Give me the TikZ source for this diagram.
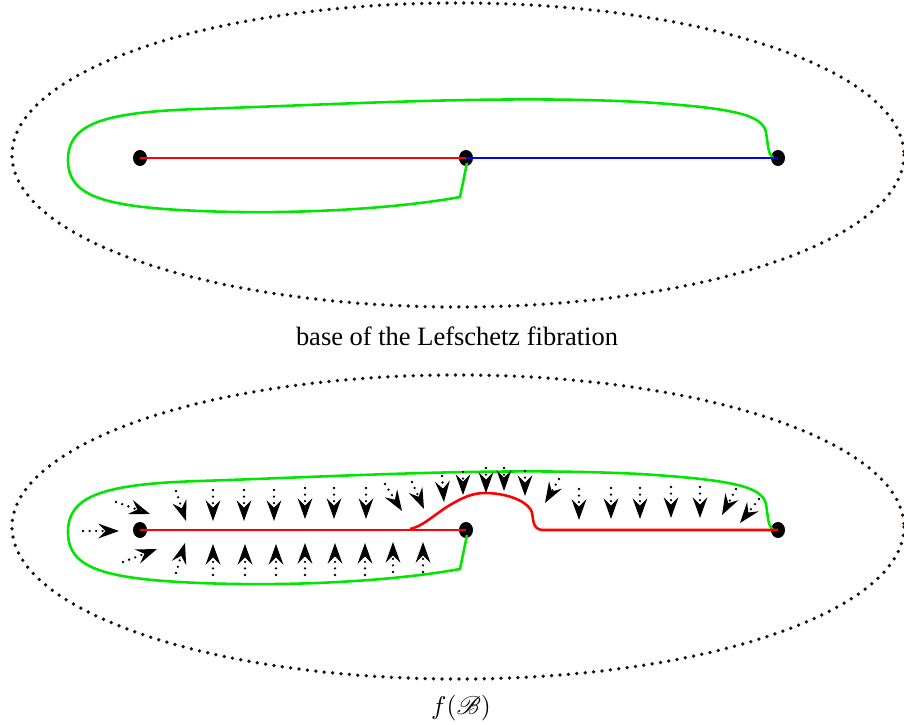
\documentclass[tikz,border=0pt]{standalone}
\usepackage{fontspec}
\setmainfont{Liberation Serif}
\usepackage{mathrsfs}
\usepackage{tikz}
\usetikzlibrary{arrows.meta,shapes.geometric}
\definecolor{fibRed}{HTML}{FF0000}
\definecolor{fibBlue}{HTML}{0000FF}
\definecolor{fibGreen}{HTML}{00E600}
\definecolor{fibInk}{HTML}{1A0F0F}
\tikzset{
  critical/.style={
    ellipse,
    fill=black,
    inner sep=0pt,
    minimum width=2.1mm,
    minimum height=2.4mm
  },
  rim/.style={
    draw=fibInk,
    line width=1.6pt,
    line cap=round,
    dash pattern=on 0pt off 3.6pt
  },
  vanishRed/.style={
    draw=fibRed,
    line width=1.1pt
  },
  vanishBlue/.style={
    draw=fibBlue,
    line width=0.9pt
  },
  loopGreen/.style={
    draw=fibGreen,
    line width=1.1pt
  },
  flow/.style={
    -{Stealth[length=3.1mm,width=2.2mm,inset=1.1mm]},
    line width=1.1pt,
    line cap=round,
    dash pattern=on 0pt off 2.8pt
  },
  caption/.style={
    font=\fontsize{11.3}{13}\selectfont
  }
}

\begin{document}
\begin{tikzpicture}[x=0.015cm,y=-0.015cm]
  \useasboundingbox (0,0) rectangle (904,725);
  \draw[rim] (458,155) ellipse [x radius=446,y radius=152];
  \draw[rim] (458,527) ellipse [x radius=446,y radius=152];
  \node[critical] (critA) at (140,158) {};
  \node[critical] (critB) at (466,158) {};
  \node[critical] (critC) at (778,158) {};
  \node[critical] (lowA) at (140,530) {};
  \node[critical] (lowB) at (466,530) {};
  \node[critical] (lowC) at (778,530) {};
  \foreach \dy in {0,372}
    \draw[loopGreen,shift={(0,\dy)}] (467,163) -- (460,197)
      .. controls (400,208) and (300,215) .. (200,211)
      .. controls (100,207) and (68,195) .. (68,160)
      .. controls (68,125) and (100,112) .. (200,109)
      .. controls (350,104) and (500,95) .. (640,102)
      .. controls (735,108) and (762,115) .. (766,132)
      .. controls (768,145) and (768,154) .. (773,158);
  \draw[vanishRed] (critA.center) -- (critB.center);
  \draw[vanishBlue] (critB.center) -- (critC.center);
  \draw[vanishRed] (lowA.center) -- (lowB.center);
  \draw[vanishRed] (410,529)
    .. controls (422,527) and (435,514) .. (450,505)
    .. controls (462,498) and (472,493) .. (485,493)
    .. controls (505,493) and (525,500) .. (531,510)
    .. controls (534,516) and (531,529) .. (542,530)
    -- (lowC.center);
  \foreach \tx/\ty/\hx/\hy in {
      83/531/119/531, 116/502/150/514, 123/562/157/549,
      176/491/186/521, 213/490/213/521, 244/490/244/521,
      274/490/274/521, 305/488/305/519, 334/488/334/519,
      366/488/366/519, 385/484/402/511, 412/482/424/509,
      442/476/444/502, 463/472/463/495, 486/468/486/493,
      504/468/504/491, 525/471/525/496, 559/479/545/503,
      579/489/579/520, 611/488/611/519, 640/488/640/519,
      671/487/671/518, 700/487/700/518, 736/489/722/515,
      759/499/740/523,
      176/573/185/543, 213/575/213/544, 245/575/245/544,
      276/575/276/544, 305/575/305/543, 335/575/335/543,
      365/575/365/543, 393/572/393/542, 423/572/423/542}
    \draw[flow] (\tx,\ty) -- (\hx,\hy);
  \node[caption] (baseText) at (457,336) {base of the Lefschetz fibration};
  \node[caption] (imageText) at (461,708) {$f(\mathscr{B})$};
\end{tikzpicture}
\end{document}
